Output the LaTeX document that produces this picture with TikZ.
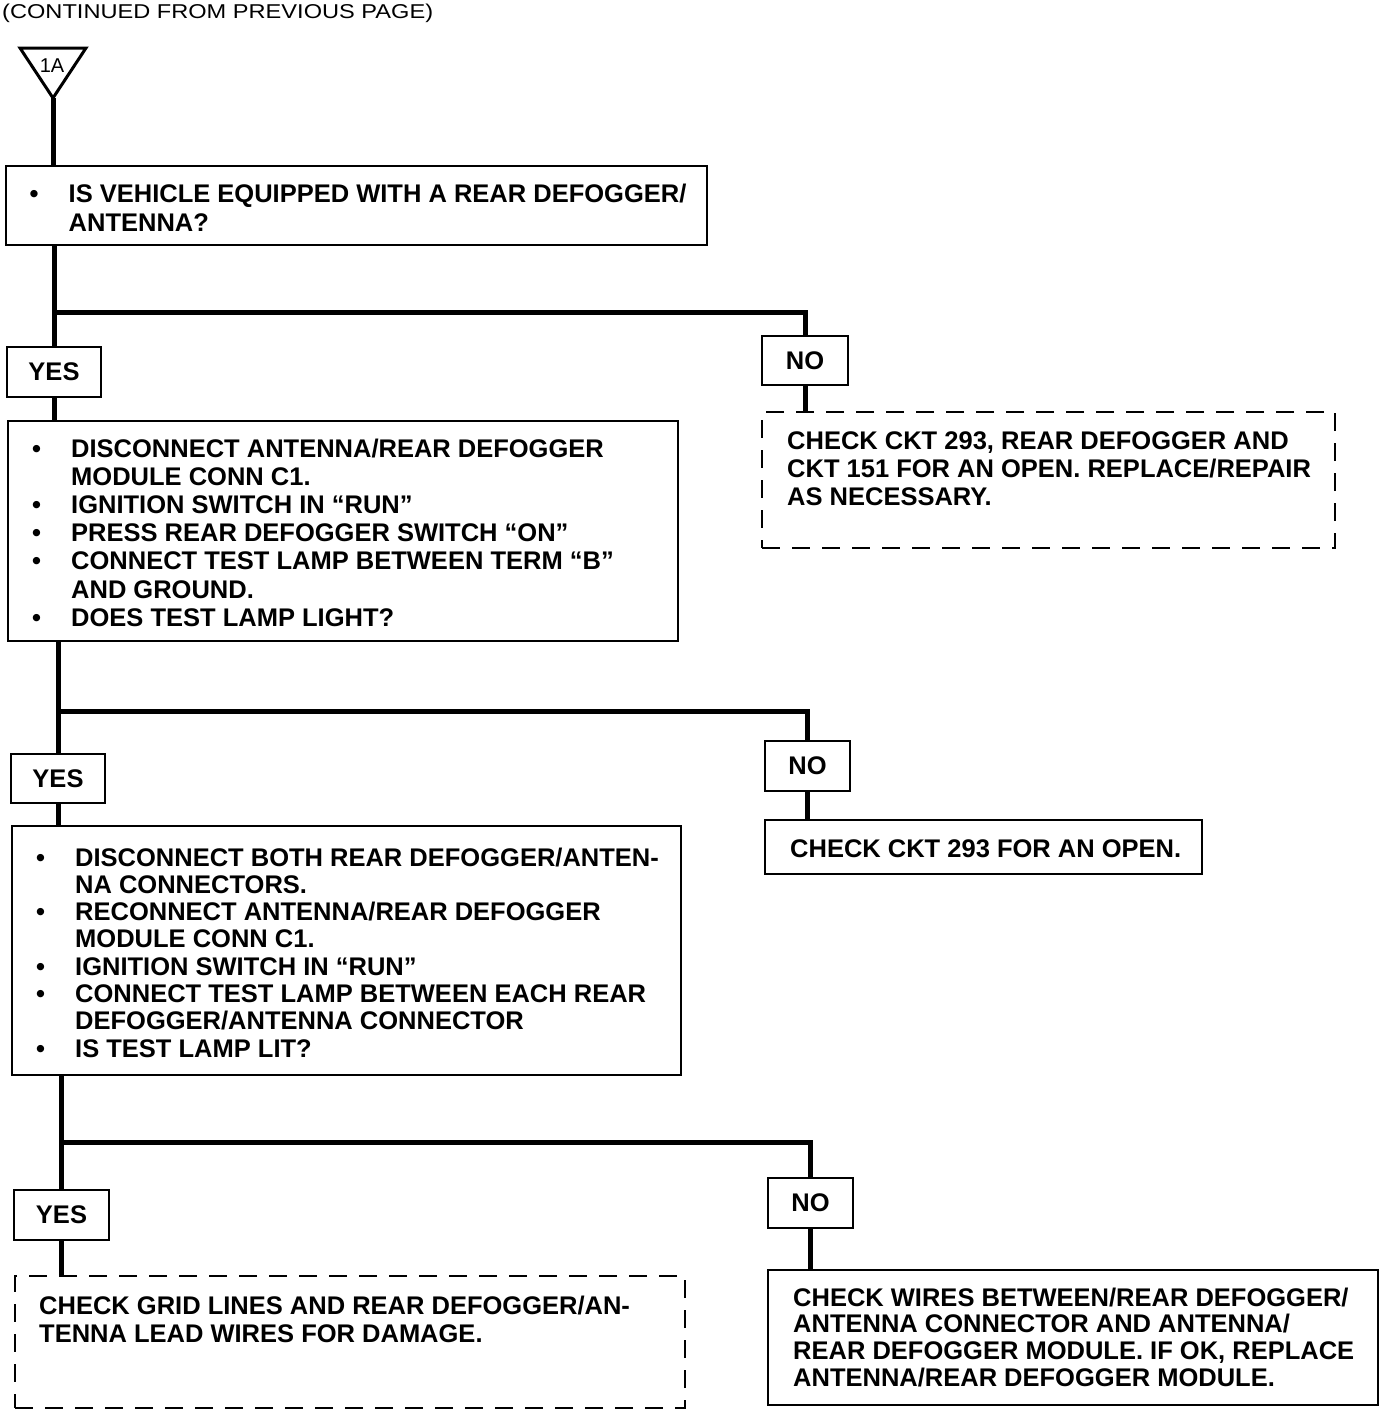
\documentclass[tikz,border=0pt]{standalone}
\usepackage{fontspec}
\setmainfont{Liberation Sans}
\usetikzlibrary{fit}
\newcommand\bl{\makebox[39pt][l]{\textbullet}}
\newcommand\nb{\hspace*{39pt}}
\begin{document}
\begin{tikzpicture}[x=1pt,y=-1pt,
  box/.style={draw, line width=2pt, inner sep=0pt},
  dbox/.style={draw, line width=2pt, dash pattern=on 18pt off 12pt, inner sep=0pt},
  lbl/.style={draw, line width=2pt, inner sep=0pt, font=\fontsize{25.5}{28}\selectfont\bfseries},
  conn/.style={line width=5pt},
  tri/.style={line width=3pt, line join=miter},
  txt/.style={anchor=base west, inner sep=0pt, align=left},
]
\fill[white] (0,0) rectangle (1392,1416);
\useasboundingbox (0,0) rectangle (1392,1416);

% title
\node[anchor=base west, inner sep=0pt, font=\fontsize{20}{24}\selectfont, xscale=1.18, transform shape] (title) at (2,19) {(CONTINUED FROM PREVIOUS PAGE)};

% connector symbol
\coordinate (tl) at (20,48);
\coordinate (tr) at (86,48);
\coordinate (tri) at (53,98);
\draw[tri] (tl) -- (tr) -- (tri) -- cycle;
\node[inner sep=0pt, font=\fontsize{20}{22}\selectfont] (ta) at (52,66) {1A};

% boxes
\node[box, fit={(6,166)(707,245)}] (b1) {};
\node[lbl, minimum width=94pt, minimum height=50pt] (y1) at (54,372) {YES};
\node[lbl, minimum width=86pt, minimum height=49pt] (n1) at (805,360.5) {NO};
\node[box, fit={(8,421)(678,641)}] (b2) {};
\node[dbox, fit={(762,412)(1335,548)}] (d1) {};
\node[lbl, minimum width=94pt, minimum height=49pt] (y2) at (58,778.5) {YES};
\node[lbl, minimum width=85pt, minimum height=50pt] (n2) at (807.5,766) {NO};
\node[box, fit={(12,826)(681,1075)}] (b3) {};
\node[box, fit={(765,820)(1202,874)}] (r2) {};
\node[lbl, minimum width=95pt, minimum height=50pt] (y3) at (61.5,1215) {YES};
\node[lbl, minimum width=85pt, minimum height=50pt] (n3) at (810.5,1203) {NO};
\node[dbox, fit={(15,1276)(685,1408)}] (d2) {};
\node[box, fit={(768,1270)(1378,1405)}] (r3) {};

% texts
\node[txt, font=\fontsize{25.5}{29}\selectfont\bfseries] (t1) at (29.5,202) {\begin{tabular}[t]{@{}l@{}}\bl IS VEHICLE EQUIPPED WITH A REAR DEFOGGER/\\ \nb ANTENNA?\end{tabular}};

\node[txt, font=\fontsize{25.5}{28.2}\selectfont\bfseries] (t2) at (32,457) {\begin{tabular}[t]{@{}l@{}}\bl DISCONNECT ANTENNA/REAR DEFOGGER\\ \nb MODULE CONN C1.\\ \bl IGNITION SWITCH IN “RUN"\\ \bl PRESS REAR DEFOGGER SWITCH “ON"\\ \bl CONNECT TEST LAMP BETWEEN TERM “B"\\ \nb AND GROUND.\\ \bl DOES TEST LAMP LIGHT?\end{tabular}};

\node[txt, font=\fontsize{25.5}{28}\selectfont\bfseries] (td1) at (787,449) {\begin{tabular}[t]{@{}l@{}}CHECK CKT 293, REAR DEFOGGER AND\\ CKT 151 FOR AN OPEN. REPLACE/REPAIR\\ AS NECESSARY.\end{tabular}};

\node[txt, font=\fontsize{25.5}{27.3}\selectfont\bfseries] (t3) at (36,866) {\begin{tabular}[t]{@{}l@{}}\bl DISCONNECT BOTH REAR DEFOGGER/ANTEN-\\ \nb NA CONNECTORS.\\ \bl RECONNECT ANTENNA/REAR DEFOGGER\\ \nb MODULE CONN C1.\\ \bl IGNITION SWITCH IN “RUN"\\ \bl CONNECT TEST LAMP BETWEEN EACH REAR\\ \nb DEFOGGER/ANTENNA CONNECTOR\\ \bl IS TEST LAMP LIT?\end{tabular}};

\node[txt, font=\fontsize{25.5}{28}\selectfont\bfseries] (tr2) at (790,857) {CHECK CKT 293 FOR AN OPEN.};

\node[txt, font=\fontsize{25.5}{28}\selectfont\bfseries] (td2) at (39,1314) {\begin{tabular}[t]{@{}l@{}}CHECK GRID LINES AND REAR DEFOGGER/AN-\\ TENNA LEAD WIRES FOR DAMAGE.\end{tabular}};

\node[txt, font=\fontsize{25.5}{26.9}\selectfont\bfseries] (tr3) at (793,1306) {\begin{tabular}[t]{@{}l@{}}CHECK WIRES BETWEEN/REAR DEFOGGER/\\ ANTENNA CONNECTOR AND ANTENNA/\\ REAR DEFOGGER MODULE. IF OK, REPLACE\\ ANTENNA/REAR DEFOGGER MODULE.\end{tabular}};

% junction points
\coordinate (j1) at (54,312);
\coordinate (j2) at (58,711);
\coordinate (j3) at (61.5,1142);

% connectors
\draw[conn] (tri) -- (tri |- b1.north);
\draw[conn] (b1.south -| y1.north) -- (y1.north);
\draw[conn] (j1) -| (n1.north);
\draw[conn] (y1.south) -- (y1.south |- b2.north);
\draw[conn] (n1.south) -- (n1.south |- d1.north);

\draw[conn] (b2.south -| y2.north) -- (y2.north);
\draw[conn] (j2) -| (n2.north);
\draw[conn] (y2.south) -- (y2.south |- b3.north);
\draw[conn] (n2.south) -- (n2.south |- r2.north);

\draw[conn] (b3.south -| y3.north) -- (y3.north);
\draw[conn] (j3) -| (n3.north);
\draw[conn] (y3.south) -- (y3.south |- d2.north);
\draw[conn] (n3.south) -- (n3.south |- r3.north);
\end{tikzpicture}
\end{document}
